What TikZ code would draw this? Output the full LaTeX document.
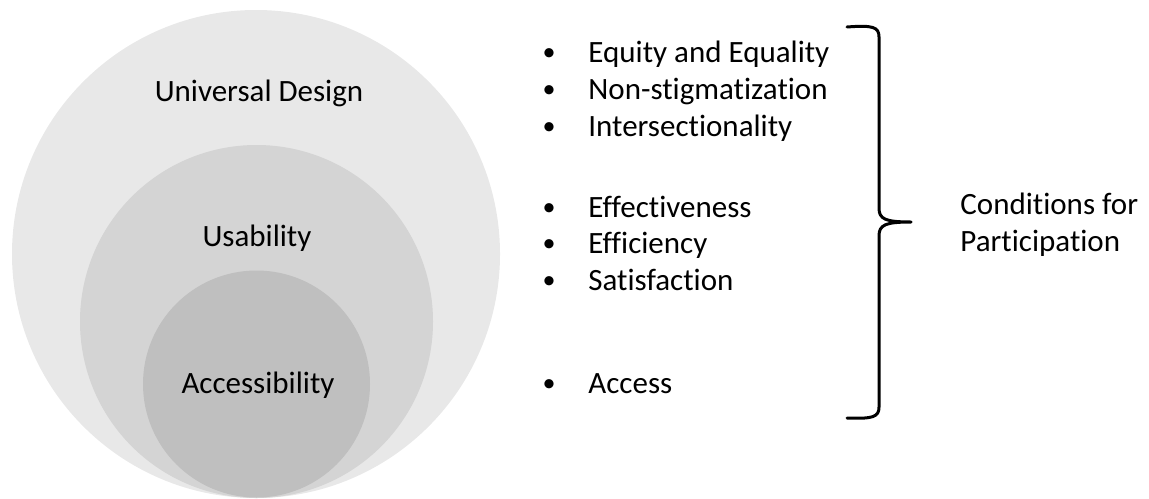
\documentclass[tikz,border=0pt]{standalone}
\usepackage{fontspec}
\setmainfont[Ligatures=NoCommon]{Carlito}
\usepackage{xcolor}
\usetikzlibrary{positioning}

\definecolor{udgrey}{RGB}{232,232,232}
\definecolor{usgrey}{RGB}{212,212,212}
\definecolor{acgrey}{RGB}{191,191,191}

\begin{document}
\begin{tikzpicture}[
  x=0.5pt, y=-0.5pt,
  font=\fontsize{15.5}{18}\selectfont,
  disc/.style={circle, inner sep=0pt, draw=none},
  lbl/.style={anchor=base, inner sep=0pt},
  item/.style={anchor=base west, inner sep=0pt},
  dot/.style={anchor=base, inner sep=0pt, font=\fontsize{13}{15}\selectfont},
]
\useasboundingbox (0,0) rectangle (1149,498);
% ---- nested circles
\node[disc, fill=udgrey, minimum size=244pt] (ud) at (256,254) {};
\node[disc, fill=usgrey, minimum size=176.5pt] (us) at (256.5,321.5) {};
\node[disc, fill=acgrey, minimum size=113.5pt] (ac) at (256.5,384) {};
\node[lbl] (udl) at (259,101) {Universal Design};
\node[lbl] (usl) at (257,246) {Usability};
\node[lbl] (acl) at (258,393) {Accessibility};
% ---- bullet list (baseline y / label)
\foreach \y/\t [count=\i] in {62/Equity and Equality,99/Non-stigmatization,136/Intersectionality,
    217/Effectiveness,253/Efficiency,290/Satisfaction,393/Access} {
  \node[dot] (b\i) at (549,\y-2) {\textbullet};
  \node[item] (t\i) at (588,\y) {\t};
}
% ---- brace
\coordinate (btop) at (847,27);
\coordinate (btip) at (911,222);
\coordinate (bbot) at (847,418);
\draw[line width=1.5pt, line cap=round, line join=round]
  (btop) .. controls (873,25) and (879,27) .. (879,37) -- (879,208)
  .. controls (879,219) and (885,222) .. (btip)
  .. controls (885,222) and (879,225) .. (879,236) -- (879,407)
  .. controls (879,417) and (873,419) .. (bbot);
\node[item] (cond) at (960,214) {Conditions for};
\node[item] (part) at (960,251) {Participation};
\end{tikzpicture}
\end{document}
